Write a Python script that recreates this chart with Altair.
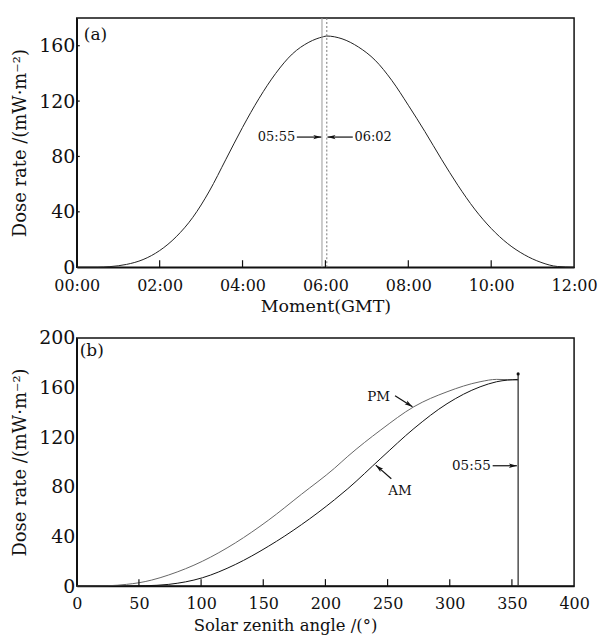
import altair as alt
import pandas as pd

# ---------- data ----------
top_hours = [0, 0.5, 0.8, 1.2, 1.6, 2.0, 2.4, 2.8, 3.2, 3.6, 4.0, 4.4, 4.8, 5.2, 5.6,
             5.95, 6.03, 6.4, 6.8, 7.2, 7.6, 8.0, 8.4, 8.8, 9.2, 9.6, 10.0, 10.4,
             10.8, 11.2, 11.6, 12]
top_dose = [0, 0, 0.4, 2, 5.5, 12, 22, 36, 55, 78, 101, 122, 140, 154, 162.5,
            166.5, 167, 165, 159, 149.5, 135, 117, 98, 78, 59, 42, 28, 17,
            9, 3.5, 0.5, 0]

pm_angle = [0, 25, 40, 50, 60, 74, 101, 127.5, 154, 180.7, 207.3, 218, 244.6, 271.2,
            297.8, 324.4, 337.7, 355]
pm_dose = [0, 0.3, 1.4, 2.7, 4.8, 9, 20, 34.8, 53, 74, 95, 104.6, 125.9, 144.6,
           156.6, 164.7, 166.6, 166]
am_angle = [0, 40, 55, 74, 101, 127.5, 154, 180.7, 207.3, 218, 244.6, 271.2, 297.8,
            324.4, 337.7, 355]
am_dose = [0, 0, 0.3, 1.4, 6.7, 17.4, 32, 49.5, 69.6, 78.5, 103, 127, 147, 160.6,
           164.7, 166.6]

hour_ticks = [0, 2, 4, 6, 8, 10, 12]
dose_ticks_top = [0, 40, 80, 120, 160]
angle_ticks = [0, 50, 100, 150, 200, 250, 300, 350, 400]
dose_ticks_bot = [0, 40, 80, 120, 160, 200]

# markers (05:55 and 06:02 in hours)
mark_times = [5.9167, 6.0333]
# annotation arrows, top panel
top_arrow_x1 = [5.31, 6.66]
top_arrow_x2 = [5.90, 6.05]
top_arrow_y = [94, 94]
top_arrow_dir = ["right", "left"]
top_text = ["05:55", "06:02"]
top_text_x = [5.27, 6.70]
top_text_align = ["right", "left"]

# bottom panel
noon_angle = 355
noon_top = 171
bot_arrows = {
    "x1": [256, 253, 334.5],
    "y1": [153.5, 86.5, 97],
    "x2": [270, 240.5, 354],
    "y2": [144.5, 97.5, 97],
    "ang": [124, 311, 90],
}
bot_text = ["PM", "AM", "05:55"]
bot_text_x = [252, 260, 333]
bot_text_y = [152, 77, 97]
bot_text_align = ["right", "center", "right"]

FONT = "DejaVu Serif"
ARROW = "M0,0L-0.55,2L0,1.55L0.55,2Z"

W = 499
YTITLE = "Dose rate /(mW·m⁻²)"


def x_axis(values, title, **kw):
    return alt.Axis(values=values, title=title, ticks=False, grid=False, orient="bottom",
                    labelFontSize=16, labelFlush=False, **kw)


def y_axis(values):
    return alt.Axis(values=values, title=YTITLE, ticks=False, grid=False, orient="left",
                    labelPadding=2, labelFontSize=19, titleFontSize=18, titlePadding=9)


# ---------- top panel ----------
df_top = pd.DataFrame({"hour": top_hours, "dose": top_dose})
xs_top = alt.Scale(domain=[0, 12], nice=False)
ys_top = alt.Scale(domain=[0, 180], nice=False)

label_expr = "(datum.value < 10 ? '0' : '') + datum.value + ':00'"

top_line = alt.Chart(df_top).mark_line(color="#222", strokeWidth=1, interpolate="monotone").encode(
    x=alt.X("hour:Q", scale=xs_top,
            axis=x_axis(hour_ticks, "Moment(GMT)", labelExpr=label_expr, labelPadding=10,
                        titlePadding=4, titleFontSize=17.5)),
    y=alt.Y("dose:Q", scale=ys_top, axis=y_axis(dose_ticks_top)),
)

top_xt = alt.Chart(pd.DataFrame({"v": hour_ticks[1:-1]})).mark_tick(
    orient="vertical", size=7, thickness=1.2, color="#111", yOffset=-3.5, opacity=1).encode(
    x=alt.X("v:Q", scale=xs_top), y=alt.Y(datum=0, scale=ys_top))
top_yt = alt.Chart(pd.DataFrame({"v": dose_ticks_top[1:]})).mark_tick(
    orient="horizontal", size=3, thickness=1.2, color="#111", xOffset=1.5, opacity=1).encode(
    y=alt.Y("v:Q", scale=ys_top), x=alt.X(datum=0, scale=xs_top))

df_marks = pd.DataFrame({"t": mark_times, "kind": ["solid", "dotted"], "y0": 0, "y1": 180})
vline_solid = alt.Chart(df_marks[df_marks["kind"] == "solid"]).mark_rule(
    color="#9a9a9a", strokeWidth=1).encode(
    x=alt.X("t:Q", scale=xs_top), y=alt.Y("y0:Q", scale=ys_top), y2="y1:Q")
vline_dot = alt.Chart(df_marks[df_marks["kind"] == "dotted"]).mark_rule(
    color="#777", strokeWidth=1, strokeDash=[2, 2]).encode(
    x=alt.X("t:Q", scale=xs_top), y=alt.Y("y0:Q", scale=ys_top), y2="y1:Q")

df_ta = pd.DataFrame({"x1": top_arrow_x1, "x2": top_arrow_x2, "y": top_arrow_y,
                      "dir": top_arrow_dir})
top_shaft = alt.Chart(df_ta).mark_rule(color="#111", strokeWidth=1.2).encode(
    x=alt.X("x1:Q", scale=xs_top), x2="x2:Q", y=alt.Y("y:Q", scale=ys_top))
top_head_r = alt.Chart(df_ta[df_ta["dir"] == "right"]).mark_point(
    shape=ARROW, filled=True, color="#111", size=64, opacity=1, angle=90).encode(
    x=alt.X("x2:Q", scale=xs_top), y=alt.Y("y:Q", scale=ys_top))
top_head_l = alt.Chart(df_ta[df_ta["dir"] == "left"]).mark_point(
    shape=ARROW, filled=True, color="#111", size=64, opacity=1, angle=270).encode(
    x=alt.X("x2:Q", scale=xs_top), y=alt.Y("y:Q", scale=ys_top))

df_tt = pd.DataFrame({"x": top_text_x, "y": top_arrow_y, "text": top_text,
                      "al": top_text_align})
top_txt_r = alt.Chart(df_tt[df_tt["al"] == "right"]).mark_text(
    font=FONT, fontSize=13, align="right", baseline="middle", color="#111").encode(
    x=alt.X("x:Q", scale=xs_top), y=alt.Y("y:Q", scale=ys_top), text="text:N")
top_txt_l = alt.Chart(df_tt[df_tt["al"] == "left"]).mark_text(
    font=FONT, fontSize=13, align="left", baseline="middle", color="#111").encode(
    x=alt.X("x:Q", scale=xs_top), y=alt.Y("y:Q", scale=ys_top), text="text:N")

panel_a = alt.Chart(pd.DataFrame({"x": [0.17], "y": [167.5], "t": ["(a)"]})).mark_text(
    font=FONT, fontSize=17, align="left", baseline="middle", color="#111").encode(
    x=alt.X("x:Q", scale=xs_top), y=alt.Y("y:Q", scale=ys_top), text="t:N")

top = alt.layer(top_line, top_xt, top_yt, vline_solid, vline_dot, top_shaft, top_head_r,
                top_head_l, top_txt_r, top_txt_l, panel_a).properties(width=W, height=250)

# ---------- bottom panel ----------
xs_bot = alt.Scale(domain=[0, 400], nice=False)
ys_bot = alt.Scale(domain=[0, 200], nice=False)

df_curves = pd.concat([
    pd.DataFrame({"angle": pm_angle, "dose": pm_dose, "series": "PM"}),
    pd.DataFrame({"angle": am_angle, "dose": am_dose, "series": "AM"}),
])

bot_lines = alt.Chart(df_curves).mark_line(strokeWidth=1, interpolate="monotone").encode(
    x=alt.X("angle:Q", scale=xs_bot,
            axis=x_axis(angle_ticks, "Solar zenith angle /(°)", labelPadding=9,
                        titlePadding=7, titleFontSize=16.5, titleX=209,
                        titleAlign="center")),
    y=alt.Y("dose:Q", scale=ys_bot, axis=y_axis(dose_ticks_bot)),
    color=alt.Color("series:N", scale=alt.Scale(domain=["PM", "AM"], range=["#666", "#111"]),
                    legend=None),
    detail="series:N",
)

bot_xt = alt.Chart(pd.DataFrame({"v": angle_ticks[1:-1]})).mark_tick(
    orient="vertical", size=7, thickness=1.2, color="#111", yOffset=-3.5, opacity=1).encode(
    x=alt.X("v:Q", scale=xs_bot), y=alt.Y(datum=0, scale=ys_bot))

df_noon = pd.DataFrame({"x": [noon_angle], "y": [noon_top], "y0": [0]})
noon_rule = alt.Chart(df_noon).mark_rule(color="#333", strokeWidth=1.3).encode(
    x=alt.X("x:Q", scale=xs_bot), y=alt.Y("y:Q", scale=ys_bot), y2="y0:Q")
noon_dot = alt.Chart(df_noon).mark_point(filled=True, color="#111", size=10, opacity=1).encode(
    x=alt.X("x:Q", scale=xs_bot), y=alt.Y("y:Q", scale=ys_bot))

df_ba = pd.DataFrame(bot_arrows)
bot_shaft = alt.Chart(df_ba).mark_rule(color="#111", strokeWidth=1.2).encode(
    x=alt.X("x1:Q", scale=xs_bot), x2="x2:Q", y=alt.Y("y1:Q", scale=ys_bot), y2="y2:Q")
bot_heads = [
    alt.Chart(df_ba.iloc[[i]]).mark_point(shape=ARROW, filled=True, color="#111", size=64,
                                          opacity=1, angle=float(a)).encode(
        x=alt.X("x2:Q", scale=xs_bot), y=alt.Y("y2:Q", scale=ys_bot))
    for i, a in enumerate(bot_arrows["ang"])
]

df_bt = pd.DataFrame({"x": bot_text_x, "y": bot_text_y, "text": bot_text,
                      "al": bot_text_align})
bot_txts = [
    alt.Chart(df_bt[df_bt["al"] == al]).mark_text(
        font=FONT, fontSize=13.5, align=al, baseline="middle", color="#111").encode(
        x=alt.X("x:Q", scale=xs_bot), y=alt.Y("y:Q", scale=ys_bot), text="text:N")
    for al in ["right", "center"]
]

panel_b = alt.Chart(pd.DataFrame({"x": [2.4], "y": [189.4], "t": ["(b)"]})).mark_text(
    font=FONT, fontSize=17, align="left", baseline="middle", color="#111").encode(
    x=alt.X("x:Q", scale=xs_bot), y=alt.Y("y:Q", scale=ys_bot), text="t:N")

bottom = alt.layer(bot_lines, bot_xt, noon_rule, noon_dot, bot_shaft, *bot_heads,
                   *bot_txts, panel_b).properties(width=W, height=249)

chart = alt.vconcat(top, bottom, spacing=12).properties(
    padding={"left": 2, "top": 7, "right": 0, "bottom": 0},
    background="white",
).configure_view(
    stroke="#111", strokeWidth=1.5
).configure_axis(
    labelFont=FONT, titleFont=FONT, labelColor="#111", titleColor="#111",
    domainColor="#111", tickColor="#111", titleFontWeight="normal", domainWidth=1.5,
    tickWidth=1.2,
).configure_axisLeft(labelAlign="right", titleAnchor="middle")

chart.save("out.html", embed_options={"renderer": "svg", "actions": False})
